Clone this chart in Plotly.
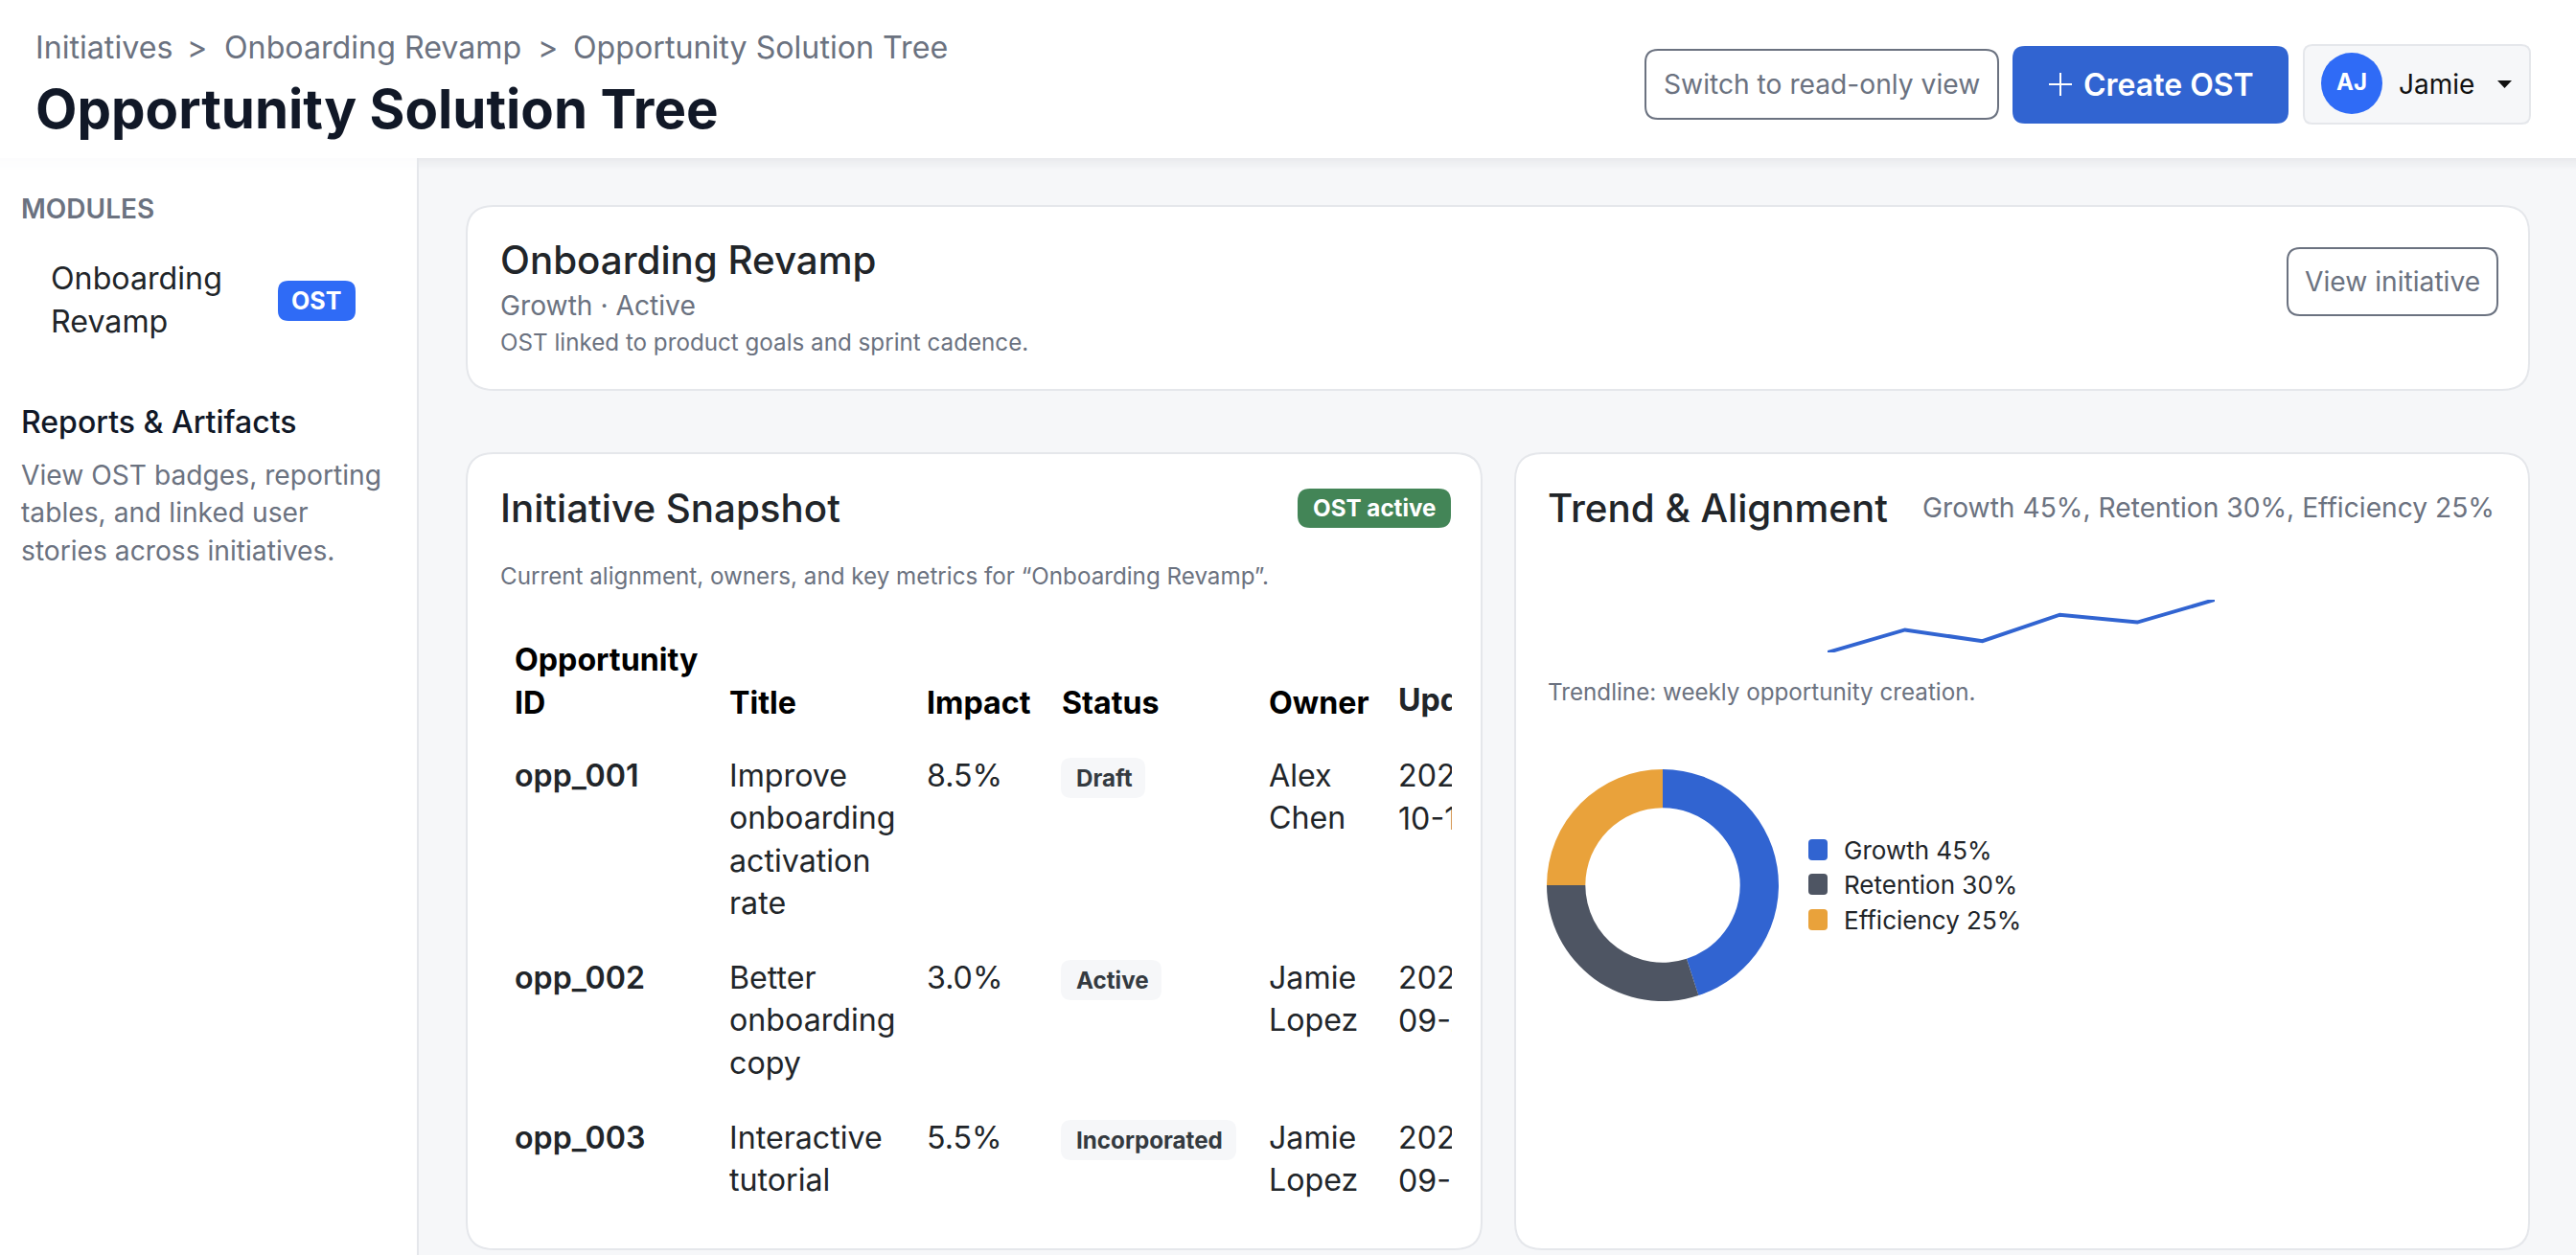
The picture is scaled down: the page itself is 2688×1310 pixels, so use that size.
import plotly.graph_objects as go

W, H = 2688, 1310
FONT = "Inter"
DARK = "#212529"
GRAY = "#6b7280"
BORDER = "#e5e7eb"
BLUE = "#3164d1"

# chart data
weekly_opps = [12, 18, 15, 22, 20, 26]
weeks = [1, 2, 3, 4, 5, 6]
segments = ["Growth", "Retention", "Efficiency"]
shares = [45, 30, 25]
segment_colors = [BLUE, "#4e5563", "#e9a23b"]

# table data
columns = ["Title", "Impact", "Status", "Owner"]
opp_ids = ["opp_001", "opp_002", "opp_003"]
titles = [["Improve", "onboarding", "activation", "rate"], ["Better", "onboarding", "copy"], ["Interactive", "tutorial"]]
impacts = ["8.5%", "3.0%", "5.5%"]
statuses = ["Draft", "Active", "Incorporated"]
owners = [["Alex", "Chen"], ["Jamie", "Lopez"], ["Jamie", "Lopez"]]
updated = [["2025-", "10-12"], ["2025-", "09-28"], ["2025-", "09-30"]]

row_y = [809, 1020, 1187]
line_h = 44.6
col_x = [536, 760, 966, 1107, 1323, 1459]
pill_w = [88, 105, 183]

shapes = []
annotations = []


def px(x):
    return x / W


def py(y):
    return 1 - y / H


def rrect(x0, y0, x1, y1, r, fill, line=None, lw=2):
    path = (f"M{px(x0 + r)},{py(y0)} L{px(x1 - r)},{py(y0)} Q{px(x1)},{py(y0)} {px(x1)},{py(y0 + r)} "
            f"L{px(x1)},{py(y1 - r)} Q{px(x1)},{py(y1)} {px(x1 - r)},{py(y1)} L{px(x0 + r)},{py(y1)} "
            f"Q{px(x0)},{py(y1)} {px(x0)},{py(y1 - r)} L{px(x0)},{py(y0 + r)} Q{px(x0)},{py(y0)} {px(x0 + r)},{py(y0)} Z")
    shapes.append(dict(type="path", path=path, xref="paper", yref="paper", fillcolor=fill, layer="below",
                       line=dict(color=line or fill, width=lw if line else 0)))


def rect(x0, y0, x1, y1, fill):
    shapes.append(dict(type="rect", xref="paper", yref="paper", x0=px(x0), x1=px(x1), y0=py(y0), y1=py(y1),
                       fillcolor=fill, line=dict(width=0), layer="below"))


def txt(x, y, s, size, color=DARK, weight=400, anchor="left"):
    annotations.append(dict(x=px(x), y=py(y), xref="paper", yref="paper", text=s, showarrow=False,
                            xanchor=anchor, yanchor="middle", borderpad=0,
                            font=dict(family=FONT, size=size, color=color, weight=weight)))


# page chrome
for i in range(12):
    rect(0, 165 + i, W, 166 + i, f"rgba(17,24,39,{0.055 * (1 - i / 12):.3f})")
rect(0, 0, W, 165, "#ffffff")
rect(0, 177, 435, H, "#ffffff")
rect(0, 165, 435, 177, "rgba(255,255,255,0.85)")
rect(435, 165, 437, H, BORDER)

# header
txt(36, 50, "Initiatives", 32.2, GRAY)
txt(205, 50, "&gt;", 32.2, GRAY, anchor="center")
txt(233, 50, "Onboarding Revamp", 32.2, GRAY)
txt(571, 50, "&gt;", 32.2, GRAY, anchor="center")
txt(597, 50, "Opportunity Solution Tree", 32.2, GRAY)
txt(36, 113, "Opportunity Solution Tree", 56.4, "#111827", 700)

rrect(1717, 52, 2085, 124, 13, "#ffffff", GRAY)
txt(1901, 88, "Switch to read-only view", 28.2, GRAY, anchor="center")
rrect(2100, 48, 2388, 129, 13, BLUE)
txt(2263, 88, "Create OST", 32, "#ffffff", 600, anchor="center")
shapes.append(dict(type="path", xref="paper", yref="paper", line=dict(color="#ffffff", width=2), layer="below",
                   path=f"M{px(2138)},{py(88)} L{px(2162)},{py(88)} M{px(2150)},{py(76)} L{px(2150)},{py(100)}"))
rrect(2404, 47, 2640, 129, 9, "#f6f7f9", BORDER)
shapes.append(dict(type="circle", xref="paper", yref="paper", x0=px(2422), x1=px(2486), y0=py(55), y1=py(119),
                   fillcolor="#2f6bf6", line=dict(width=0), layer="below"))
txt(2454, 86, "AJ", 24, "#ffffff", 700, anchor="center")
txt(2502, 88, "Jamie", 28, "#111111")
shapes.append(dict(type="path", xref="paper", yref="paper", fillcolor="#111111", line=dict(width=0), layer="below",
                   path=f"M{px(2606)},{py(84)} L{px(2621)},{py(84)} L{px(2613.5)},{py(92)} Z"))

# sidebar
txt(21, 218, "MODULES", 28, GRAY, 600)
txt(52, 290, "Onboarding", 32.2, DARK)
txt(52, 335, "Revamp", 32.2, DARK)
rrect(290, 293, 371, 335, 11, "#2f6bf6")
txt(330, 314, "OST", 25, "#ffffff", 700, anchor="center")
txt(21, 441, "Reports &amp; Artifacts", 32, "#111827", 500)
for y, s in zip([496, 535, 575], ["View OST badges, reporting", "tables, and linked user", "stories across initiatives."]):
    txt(21, y, s, 28.2, GRAY)

# top card
rrect(487, 215, 2639, 407, 28, "#ffffff", BORDER)
txt(521, 271, "Onboarding Revamp", 40.3, DARK, 500)
txt(521, 319, "Growth · Active", 28.2, GRAY)
txt(521, 358, "OST linked to product goals and sprint cadence.", 24.2, GRAY)
rrect(2387, 259, 2606, 329, 13, "#ffffff", GRAY)
txt(2496, 294, "View initiative", 28.2, GRAY, anchor="center")

# snapshot card
rrect(487, 473, 1546, 1304, 28, "#ffffff", BORDER)
txt(521, 530, "Initiative Snapshot", 40.3, DARK, 500)
rrect(1354, 510, 1514, 551, 13, "#438557")
txt(1434, 531, "OST active", 24.2, "#ffffff", 700, anchor="center")
txt(521, 602, "Current alignment, owners, and key metrics for “Onboarding Revamp”.", 24.2, GRAY)

txt(col_x[0], 688, "Opportunity", 32.2, "#000000", 700)
txt(col_x[0], 733, "ID", 32.2, "#000000", 700)
for x, name in zip(col_x[1:5], columns):
    txt(x, 733, name, 32.2, "#000000", 700)

for i, y in enumerate(row_y):
    txt(col_x[0], y, opp_ids[i], 32.2, DARK, 600)
    for j, s in enumerate(titles[i]):
        txt(col_x[1], y + j * line_h, s, 32.2)
    txt(col_x[2], y, impacts[i], 32.2)
    rrect(col_x[3], y - 18, col_x[3] + pill_w[i], y + 24, 11, "#f6f7f9")
    txt(col_x[3] + 15, y + 3, statuses[i], 24.2, "#343a40", 700)
    for j, s in enumerate(owners[i]):
        txt(col_x[4], y + j * line_h, s, 32.2)

# trend card
rrect(1581, 473, 2639, 1304, 28, "#ffffff", BORDER)
txt(1614, 530, "Trend &amp; Alignment", 40.3, DARK, 500)
txt(2604, 530, ", ".join(f"{n} {v}%" for n, v in zip(segments, shares)), 28.2, GRAY, anchor="right")
txt(1614, 722, "Trendline: weekly opportunity creation.", 24.2, GRAY)

# legend
for y, name, v, c in zip([887, 923, 960], segments, shares, segment_colors):
    rrect(1887, y - 11, 1907, y + 11, 4, c)
    txt(1923, y, f"{name} {v}%", 26, DARK)

fig = go.Figure()

# sparkline
fig.add_trace(go.Scatter(x=weeks, y=weekly_opps, mode="lines", line=dict(color=BLUE, width=4),
                         xaxis="x", yaxis="y", cliponaxis=False, hoverinfo="skip"))

# donut
cx, cy, r = 1735, 924, 121
fig.add_trace(go.Pie(labels=segments, values=shares, hole=0.667, sort=False, direction="clockwise", rotation=0,
                     marker=dict(colors=segment_colors, line=dict(width=0)), textinfo="none", hoverinfo="skip",
                     showlegend=False, domain=dict(x=[px(cx - r), px(cx + r)], y=[py(cy + r), py(cy - r)])))

# last table column is cut off by the scroll container, axis domain does the clipping
clip_y = []
clip_text = []
for i, y in enumerate(row_y):
    for j, s in enumerate(updated[i]):
        clip_y.append(y + j * line_h + 4)  # text mode sits a little higher than annotations
        clip_text.append(s)
clip_y.append(734)
clip_text.append("<b>Updated</b>")
fig.add_trace(go.Scatter(x=[col_x[5]] * len(clip_y), y=clip_y, text=clip_text, mode="text", textposition="middle right",
                         textfont=dict(family=FONT, size=32.2, color=DARK), xaxis="x2", yaxis="y2",
                         cliponaxis=True, hoverinfo="skip"))

fig.update_layout(
    width=W, height=H, margin=dict(l=0, r=0, t=0, b=0), showlegend=False, hovermode=False,
    paper_bgcolor="#f6f7f9", plot_bgcolor="rgba(0,0,0,0)",
    shapes=shapes, annotations=annotations,
    xaxis=dict(domain=[px(1907), px(2311)], range=[1, 6], visible=False, anchor="y"),
    yaxis=dict(domain=[py(681), py(626)], range=[12, 26], visible=False, anchor="x"),
    xaxis2=dict(domain=[px(1450), px(1515)], range=[1450, 1515], visible=False, anchor="y2"),
    yaxis2=dict(domain=[0, 1], range=[H, 0], visible=False, anchor="x2"),
)

fig.write_html("out.html", config=dict(displayModeBar=False),
               post_script="document.body.style.margin='0';document.body.style.overflow='hidden';")
